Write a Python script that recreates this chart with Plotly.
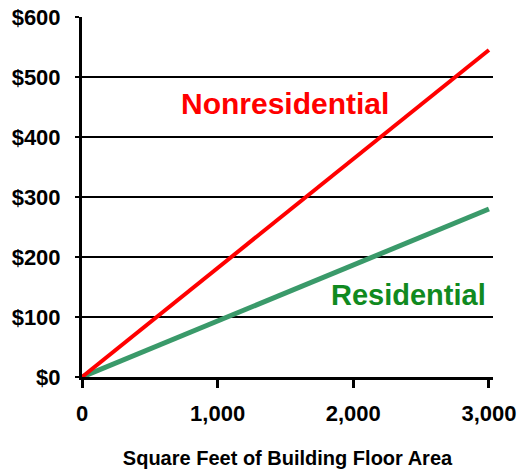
import plotly.graph_objects as go

# Building floor area (sq ft) and the corresponding fee for each class
floor_area = [0, 3000]
nonresidential_fee = [0, 545]
residential_fee = [0, 280]

y_ticks = [0, 100, 200, 300, 400, 500, 600]
y_tick_labels = ["$0", "$100", "$200", "$300", "$400", "$500", "$600"]
x_ticks = [0, 1000, 2000, 3000]
x_tick_labels = ["0", "1,000", "2,000", "3,000"]

font_family = "Liberation Sans, Arial, sans-serif"

fig = go.Figure()
fig.add_trace(go.Scatter(
    x=floor_area, y=residential_fee, mode="lines",
    line=dict(color="#3a9a6a", width=5), showlegend=False,
))
fig.add_trace(go.Scatter(
    x=floor_area, y=nonresidential_fee, mode="lines",
    line=dict(color="#ff0000", width=4), showlegend=False,
))

fig.add_annotation(x=1500, y=456, text="<b>Nonresidential</b>", showarrow=False,
                   font=dict(family=font_family, size=30, color="#ff0000"))
fig.add_annotation(x=2410, y=137, text="<b>Residential</b>", showarrow=False,
                   font=dict(family=font_family, size=29, color="#108a20"))

fig.update_layout(
    width=529, height=470,
    margin=dict(l=82, r=36, t=17, b=93),
    paper_bgcolor="white", plot_bgcolor="white",
    font=dict(family=font_family, color="black"),
    xaxis=dict(
        range=[0, 3030], tickvals=x_ticks, ticktext=x_tick_labels,
        automargin=False,
        showgrid=False, zeroline=False,
        showline=True, linecolor="black", linewidth=3,
        ticks="outside", ticklen=8, tickwidth=3, tickcolor="black",
        tickfont=dict(family=font_family, size=22, color="black", weight="bold"),
        ticklabelstandoff=7,
        title=dict(text="<b>Square Feet of Building Floor Area</b>",
                   font=dict(family=font_family, size=20, color="black"), standoff=26),
    ),
    yaxis=dict(
        range=[0, 600], tickvals=y_ticks, ticktext=y_tick_labels,
        automargin=False,
        showgrid=True, gridcolor="black", gridwidth=2, zeroline=False,
        showline=True, linecolor="black", linewidth=3,
        ticks="outside", ticklen=4, tickwidth=2, tickcolor="black",
        tickfont=dict(family=font_family, size=22, color="black", weight="bold"),
        ticklabelstandoff=10,
    ),
)

fig.write_html("out.html")
